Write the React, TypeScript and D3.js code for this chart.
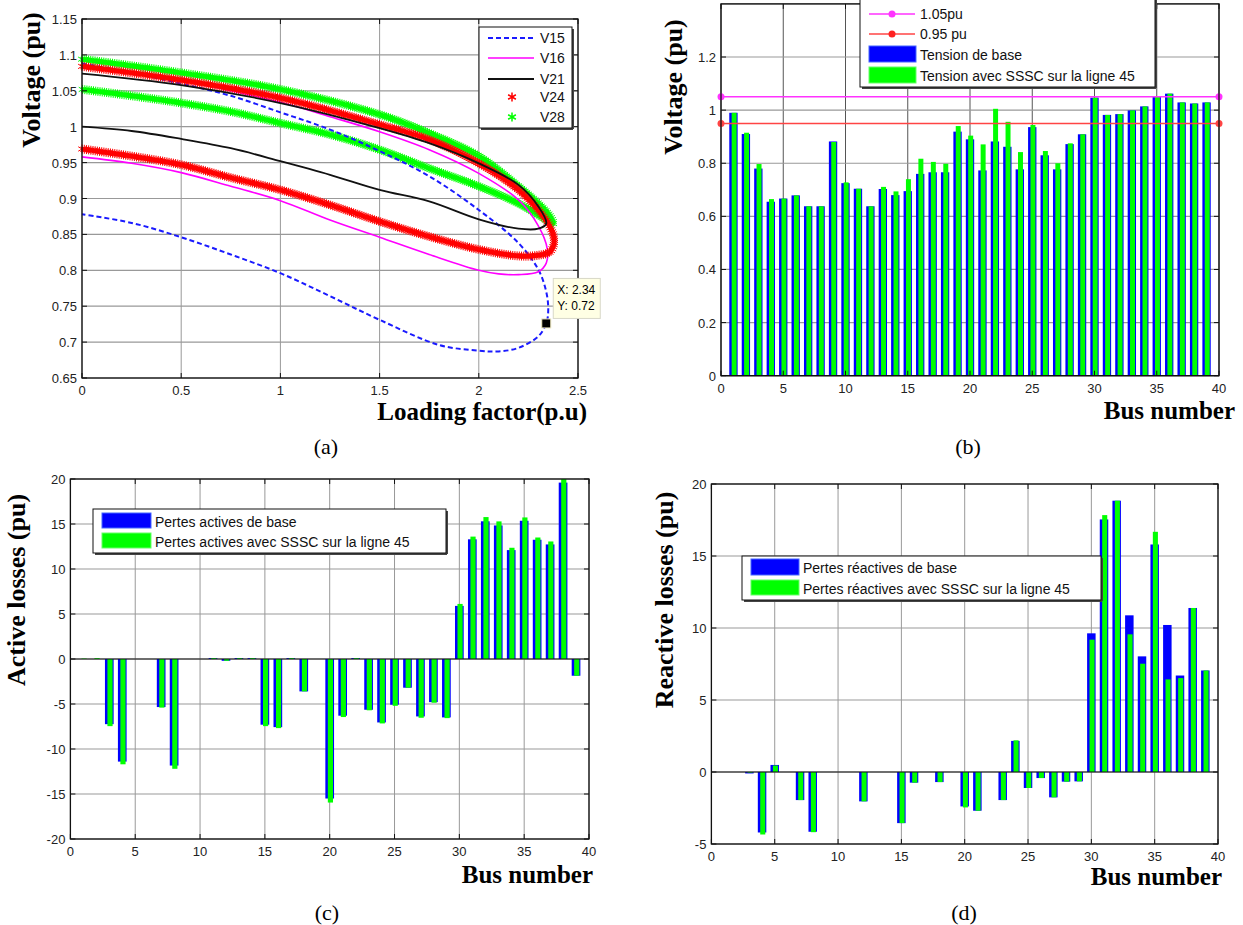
import React, { useEffect, useRef } from "react";
import * as d3 from "d3";

const W = 1243;
const H = 925;

// (a) PV curves, [loading factor, voltage]: upper branch out to the nose, then back along the lower branch
const v15 = [[0, 1.088], [0.25, 1.075], [0.5, 1.06], [0.75, 1.043], [1.0, 1.02], [1.25, 0.996], [1.5, 0.966], [1.75, 0.931], [2.0, 0.884], [2.2, 0.838], [2.3, 0.801], [2.34, 0.77], [2.35, 0.745], [2.34, 0.726], [2.3, 0.708], [2.2, 0.692], [2.1, 0.687], [2.0, 0.688], [1.8, 0.696], [1.5, 0.731], [1.25, 0.764], [1.0, 0.796], [0.75, 0.822], [0.5, 0.846], [0.25, 0.866], [0, 0.878]];
const v16 = [[0, 1.085], [0.5, 1.064], [1.0, 1.034], [1.25, 1.014], [1.5, 0.993], [1.75, 0.968], [2.0, 0.935], [2.2, 0.898], [2.3, 0.862], [2.345, 0.83], [2.34, 0.81], [2.3, 0.798], [2.2, 0.794], [2.1, 0.795], [2.0, 0.8], [1.75, 0.822], [1.5, 0.846], [1.25, 0.87], [1.0, 0.897], [0.75, 0.917], [0.5, 0.936], [0.25, 0.949], [0, 0.958]];
const v21 = [[0, 1.074], [0.5, 1.058], [1.0, 1.033], [1.5, 0.998], [1.75, 0.977], [2.0, 0.949], [2.2, 0.919], [2.3, 0.889], [2.34, 0.865], [2.3, 0.858], [2.2, 0.858], [2.0, 0.871], [1.75, 0.896], [1.5, 0.912], [1.25, 0.933], [1.0, 0.952], [0.75, 0.97], [0.5, 0.983], [0.25, 0.994], [0, 1.0]];
const v24 = [[0, 1.084], [0.5, 1.065], [1.0, 1.04], [1.5, 1.003], [1.75, 0.982], [2.0, 0.949], [2.2, 0.912], [2.3, 0.884], [2.36, 0.86], [2.38, 0.84], [2.36, 0.826], [2.3, 0.821], [2.2, 0.82], [2.0, 0.829], [1.75, 0.847], [1.5, 0.868], [1.25, 0.891], [1.0, 0.912], [0.75, 0.929], [0.5, 0.947], [0.25, 0.959], [0, 0.969]];
const v28 = [[0, 1.094], [0.5, 1.075], [1.0, 1.052], [1.5, 1.017], [1.75, 0.991], [2.0, 0.959], [2.2, 0.917], [2.3, 0.893], [2.36, 0.875], [2.375, 0.865], [2.33, 0.872], [2.2, 0.893], [2.0, 0.917], [1.75, 0.942], [1.5, 0.968], [1.25, 0.989], [1.0, 1.005], [0.75, 1.021], [0.5, 1.033], [0.25, 1.043], [0, 1.052]];
const tipPoint = [2.34, 0.726];

const aTicksX = [0, 0.5, 1, 1.5, 2, 2.5];
const aTicksY = [0.65, 0.7, 0.75, 0.8, 0.85, 0.9, 0.95, 1, 1.05, 1.1, 1.15];
const busTicks = [0, 5, 10, 15, 20, 25, 30, 35, 40];
const bTicksY = [0, 0.2, 0.4, 0.6, 0.8, 1, 1.2];
const cTicksY = [-20, -15, -10, -5, 0, 5, 10, 15, 20];
const dTicksY = [-5, 0, 5, 10, 15, 20];

const busNumbers = [1, 2, 3, 4, 5, 6, 7, 8, 9, 10, 11, 12, 13, 14, 15, 16, 17, 18, 19, 20, 21, 22, 23, 24, 25, 26, 27, 28, 29, 30, 31, 32, 33, 34, 35, 36, 37, 38, 39];

// (b) bus voltages
const voltBase = [0.99, 0.91, 0.78, 0.655, 0.667, 0.679, 0.638, 0.638, 0.882, 0.725, 0.704, 0.638, 0.703, 0.68, 0.695, 0.76, 0.766, 0.766, 0.919, 0.89, 0.773, 0.882, 0.862, 0.777, 0.936, 0.83, 0.777, 0.872, 0.909, 1.047, 0.982, 0.985, 0.999, 1.014, 1.05, 1.062, 1.029, 1.025, 1.029];
const voltSSSC = [0.99, 0.915, 0.797, 0.665, 0.667, 0.679, 0.638, 0.638, 0.88, 0.728, 0.704, 0.638, 0.711, 0.694, 0.74, 0.817, 0.805, 0.798, 0.94, 0.904, 0.871, 1.005, 0.956, 0.842, 0.944, 0.846, 0.8, 0.875, 0.909, 1.047, 0.982, 0.985, 0.999, 1.014, 1.05, 1.062, 1.029, 1.025, 1.029];
const limitHigh = 1.05;
const limitLow = 0.95;

// (c) active losses
const activeBase = [0, 0, -7.24, -11.4, 0, 0, -5.34, -11.84, 0, 0, 0.1, -0.2, 0.1, 0.1, -7.3, -7.57, 0.1, -3.6, 0, -15.5, -6.3, 0.1, -5.64, -7.05, -5.08, -3.19, -6.38, -4.79, -6.49, 5.9, 13.3, 15.3, 14.84, 12.1, 15.36, 13.25, 12.73, 19.6, -1.86];
const activeSSSC = [0.05, 0.1, -7.46, -11.7, 0, 0, -5.4, -12.2, 0, 0, 0.1, -0.2, 0.1, 0.1, -7.46, -7.68, 0.1, -3.6, 0, -15.95, -6.45, 0.1, -5.7, -7.16, -5.2, -3.19, -6.53, -4.86, -6.57, 6.12, 13.6, 15.77, 15.29, 12.36, 15.73, 13.5, 13.06, 20, -1.86];

// (d) reactive losses
const reactBase = [0, 0, -0.1, -4.2, 0.49, 0, -1.95, -4.15, 0, 0, 0, -2.04, 0, 0, -3.55, -0.74, 0, -0.7, 0, -2.39, -2.69, 0, -1.95, 2.16, -1.11, -0.42, -1.76, -0.67, -0.65, 9.63, 17.54, 18.84, 10.88, 8.03, 15.8, 10.21, 6.7, 11.39, 7.05];
const reactSSSC = [0, 0, -0.05, -4.34, 0.45, 0, -1.95, -4.18, 0, 0, 0, -2.04, 0, 0, -3.55, -0.74, 0, -0.7, 0, -2.46, -2.69, 0, -1.95, 2.2, -1.11, -0.42, -1.76, -0.67, -0.65, 9.19, 17.84, 18.84, 9.56, 7.52, 16.68, 6.43, 6.52, 11.39, 7.05];

const SANS = "'Liberation Sans', Arial, sans-serif";
const SERIF = "'Liberation Serif', 'Times New Roman', serif";
const fmt = (d) => String(+d.toFixed(2));

function axes(g, x, y, xt, yt, gridV, gridH) {
  const [x0, x1] = x.range();
  const [y0, y1] = y.range();
  g.append("g").selectAll("line").data(xt).join("line")
    .attr("x1", d => x(d)).attr("x2", d => x(d)).attr("y1", y0).attr("y2", y1)
    .attr("stroke", gridV).attr("stroke-width", 1);
  g.append("g").selectAll("line").data(yt).join("line")
    .attr("x1", x0).attr("x2", x1).attr("y1", d => y(d)).attr("y2", d => y(d))
    .attr("stroke", gridH).attr("stroke-width", 1.2);
}

function frame(g, x, y, xt, yt) {
  const [x0, x1] = x.range();
  const [y0, y1] = y.range();
  g.append("rect").attr("x", x0).attr("y", y1).attr("width", x1 - x0).attr("height", y0 - y1)
    .attr("fill", "none").attr("stroke", "#111").attr("stroke-width", 1.3);
  const tk = 5;
  const t = g.append("g").attr("stroke", "#111").attr("stroke-width", 1);
  xt.forEach(d => {
    t.append("line").attr("x1", x(d)).attr("x2", x(d)).attr("y1", y0).attr("y2", y0 - tk);
    t.append("line").attr("x1", x(d)).attr("x2", x(d)).attr("y1", y1).attr("y2", y1 + tk);
  });
  yt.forEach(d => {
    t.append("line").attr("x1", x0).attr("x2", x0 + tk).attr("y1", y(d)).attr("y2", y(d));
    t.append("line").attr("x1", x1).attr("x2", x1 - tk).attr("y1", y(d)).attr("y2", y(d));
  });
  g.append("g").selectAll("text").data(xt).join("text")
    .attr("x", d => x(d)).attr("y", y0 + 17).attr("text-anchor", "middle")
    .style("font-family", SANS).style("font-size", "13px").attr("fill", "#222").text(fmt);
  g.append("g").selectAll("text").data(yt).join("text")
    .attr("x", x0 - 5).attr("y", d => y(d) + 5).attr("text-anchor", "end")
    .style("font-family", SANS).style("font-size", "13px").attr("fill", "#222").text(fmt);
}

function titles(svg, yTitle, yx, yy, xTitle, xx, xy, tag, tx, ty) {
  svg.append("text").attr("transform", `translate(${yx},${yy}) rotate(-90)`).attr("text-anchor", "middle")
    .style("font-family", SERIF).style("font-weight", "bold").style("font-size", "26px").text(yTitle);
  svg.append("text").attr("x", xx).attr("y", xy).attr("text-anchor", "end")
    .style("font-family", SERIF).style("font-weight", "bold").style("font-size", "25px").text(xTitle);
  svg.append("text").attr("x", tx).attr("y", ty).attr("text-anchor", "middle")
    .style("font-family", SERIF).style("font-size", "22px").text(tag);
}

function bars(g, x, y, base, sssc) {
  const zero = y(0);
  const bw = x(0.67) - x(0);
  const gw = x(0.4) - x(0);
  g.append("g").selectAll("rect").data(busNumbers).join("rect")
    .attr("x", (d) => x(d - 0.335)).attr("width", bw)
    .attr("y", (d, i) => Math.min(zero, y(base[i])))
    .attr("height", (d, i) => Math.abs(y(base[i]) - zero))
    .attr("fill", "#0000ff");
  g.append("g").selectAll("rect").data(busNumbers).join("rect")
    .attr("x", (d) => x(d - 0.145)).attr("width", gw)
    .attr("y", (d, i) => Math.min(zero, y(sssc[i])))
    .attr("height", (d, i) => Math.abs(y(sssc[i]) - zero))
    .attr("fill", "#00ff00");
  g.append("line").attr("x1", x.range()[0]).attr("x2", x.range()[1]).attr("y1", zero).attr("y2", zero)
    .attr("stroke", "#111").attr("stroke-width", 1);
}

function legendBox(g, x0, y0, x1, y1) {
  g.append("line").attr("x1", x1 + 1).attr("x2", x1 + 1).attr("y1", y0 + 2).attr("y2", y1 + 1).attr("stroke", "#444").attr("stroke-width", 2);
  g.append("line").attr("x1", x0 + 2).attr("x2", x1 + 1).attr("y1", y1 + 1).attr("y2", y1 + 1).attr("stroke", "#444").attr("stroke-width", 2);
  g.append("rect").attr("x", x0).attr("y", y0).attr("width", x1 - x0).attr("height", y1 - y0)
    .attr("fill", "#fff").attr("stroke", "#111").attr("stroke-width", 1);
}

function legendText(g, x, y, s) {
  g.append("text").attr("x", x).attr("y", y).style("font-family", SANS).style("font-size", "14px").attr("fill", "#111").text(s);
}

function draw(node) {
  const svg = d3.select(node);
  svg.selectAll("*").remove();
  svg.append("rect").attr("width", W).attr("height", H).attr("fill", "#fff");

  // ---------- (a)
  const xa = d3.scaleLinear().domain([0, 2.5]).range([82, 578]);
  const ya = d3.scaleLinear().domain([0.65, 1.15]).range([378, 19]);
  const ga = svg.append("g");
  axes(ga, xa, ya, aTicksX, aTicksY, "#999", "#999");
  const line = d3.line().x(d => xa(d[0])).y(d => ya(d[1])).curve(d3.curveCatmullRom.alpha(0.5));
  const star = d3.symbol(d3.symbolAsterisk, 56)();
  const starred = (data, col) => {
    const p = ga.append("path").attr("d", line(data)).attr("fill", "none").attr("stroke", col).attr("stroke-width", 4.5);
    const pn = p.node();
    const len = pn.getTotalLength();
    const pts = d3.range(0, len, 2.2).map(l => pn.getPointAtLength(l));
    ga.append("g").selectAll("path").data(pts).join("path").attr("d", star)
      .attr("transform", q => `translate(${q.x},${q.y})`)
      .attr("fill", "none").attr("stroke", col).attr("stroke-width", 1);
  };
  starred(v28, "#00ff00");
  ga.append("path").attr("d", line(v15)).attr("fill", "none").attr("stroke", "#1a1aff").attr("stroke-width", 2).attr("stroke-dasharray", "5,3");
  ga.append("path").attr("d", line(v16)).attr("fill", "none").attr("stroke", "#ff00ff").attr("stroke-width", 1.6);
  starred(v24, "#ff0000");
  ga.append("path").attr("d", line(v21)).attr("fill", "none").attr("stroke", "#111").attr("stroke-width", 1.8);
  frame(ga, xa, ya, aTicksX, aTicksY);

  // data tip
  const tx = xa(tipPoint[0]), ty = ya(tipPoint[1]);
  ga.append("rect").attr("x", tx + 7).attr("y", ty - 45).attr("width", 47).attr("height", 40)
    .attr("fill", "#ffffe4").attr("stroke", "#d8d8c8");
  ga.append("text").attr("x", tx + 11).attr("y", ty - 29).style("font-family", SANS).style("font-size", "12px").text("X: 2.34");
  ga.append("text").attr("x", tx + 11).attr("y", ty - 13).style("font-family", SANS).style("font-size", "12px").text("Y: 0.72");
  ga.append("rect").attr("x", tx - 4.5).attr("y", ty - 4.5).attr("width", 9).attr("height", 9)
    .attr("fill", "#000").attr("stroke", "#eee8c0").attr("stroke-width", 1);

  // legend (a)
  legendBox(ga, 479, 27, 572, 128);
  const la = [
    { name: "V15", col: "#1a1aff", dash: "5,3", w: 2 },
    { name: "V16", col: "#ff00ff", dash: null, w: 1.6 },
    { name: "V21", col: "#111", dash: null, w: 2 },
    { name: "V24", col: "#ff0000", star: true },
    { name: "V28", col: "#00ff00", star: true },
  ];
  const rowsA = [38, 58, 79, 97, 117];
  la.forEach((d, i) => {
    if (d.star) {
      ga.append("path").attr("d", star).attr("transform", `translate(512,${rowsA[i]})`)
        .attr("fill", "none").attr("stroke", d.col).attr("stroke-width", 1.5);
    } else {
      ga.append("line").attr("x1", 488).attr("x2", 534).attr("y1", rowsA[i]).attr("y2", rowsA[i])
        .attr("stroke", d.col).attr("stroke-width", d.w).attr("stroke-dasharray", d.dash);
    }
    legendText(ga, 540, rowsA[i] + 5, d.name);
  });
  titles(svg, "Voltage (pu)", 40, 80, "Loading factor(p.u)", 587, 420, "(a)", 326, 454);

  // ---------- (b)
  const xb = d3.scaleLinear().domain([0, 40]).range([721, 1219]);
  const yb = d3.scaleLinear().domain([0, 1.4]).range([375.7, 3.9]);
  const gb = svg.append("g");
  axes(gb, xb, yb, busTicks, bTicksY.concat([1.4]), "#555", "#999");
  bars(gb, xb, yb, voltBase, voltSSSC);
  [[limitHigh, "#ff33ff"], [limitLow, "#ff4444"]].forEach(([v, c]) => {
    gb.append("line").attr("x1", xb(0)).attr("x2", xb(40)).attr("y1", yb(v)).attr("y2", yb(v)).attr("stroke", c).attr("stroke-width", 1.5);
    [0, 40].forEach(b => gb.append("circle").attr("cx", xb(b)).attr("cy", yb(v)).attr("r", 3.5).attr("fill", c));
  });
  frame(gb, xb, yb, busTicks, bTicksY);
  legendBox(gb, 860, -3, 1155, 87);
  gb.append("line").attr("x1", 869).attr("x2", 915).attr("y1", 14).attr("y2", 14).attr("stroke", "#ff33ff").attr("stroke-width", 1.5);
  gb.append("circle").attr("cx", 892).attr("cy", 14).attr("r", 3.5).attr("fill", "#ff33ff");
  legendText(gb, 920, 19, "1.05pu");
  gb.append("line").attr("x1", 869).attr("x2", 915).attr("y1", 34).attr("y2", 34).attr("stroke", "#ff4444").attr("stroke-width", 1.5);
  gb.append("circle").attr("cx", 892).attr("cy", 34).attr("r", 3.5).attr("fill", "#ff2222");
  legendText(gb, 920, 39, "0.95 pu");
  gb.append("rect").attr("x", 869).attr("y", 46).attr("width", 47).attr("height", 16).attr("fill", "#0000ff").attr("stroke", "#4466ff");
  legendText(gb, 920, 60, "Tension de base");
  gb.append("rect").attr("x", 869).attr("y", 67).attr("width", 47).attr("height", 16).attr("fill", "#00ff00").attr("stroke", "#66ff66");
  legendText(gb, 920, 81, "Tension avec SSSC sur la ligne 45");
  titles(svg, "Voltage (pu)", 682, 87, "Bus number", 1235, 419, "(b)", 968, 454);

  // ---------- (c)
  const xc = d3.scaleLinear().domain([0, 40]).range([70.4, 589]);
  const yc = d3.scaleLinear().domain([-20, 20]).range([839, 479]);
  const gc = svg.append("g");
  axes(gc, xc, yc, busTicks, cTicksY, "#999", "#999");
  bars(gc, xc, yc, activeBase, activeSSSC);
  frame(gc, xc, yc, busTicks, cTicksY);
  legendBox(gc, 93, 509, 446, 553);
  gc.append("rect").attr("x", 102).attr("y", 513).attr("width", 49).attr("height", 15).attr("fill", "#0000ff").attr("stroke", "#4466ff");
  legendText(gc, 155, 527, "Pertes actives de base");
  gc.append("rect").attr("x", 102).attr("y", 533).attr("width", 49).attr("height", 15).attr("fill", "#00ff00").attr("stroke", "#66ff66");
  legendText(gc, 155, 547, "Pertes actives avec SSSC sur la ligne 45");
  titles(svg, "Active losses (pu)", 25, 590, "Bus number", 593, 883, "(c)", 327, 920);

  // ---------- (d)
  const xd = d3.scaleLinear().domain([0, 40]).range([711.4, 1218]);
  const yd = d3.scaleLinear().domain([-5, 20]).range([844, 484]);
  const gd = svg.append("g");
  axes(gd, xd, yd, busTicks, dTicksY, "#999", "#999");
  bars(gd, xd, yd, reactBase, reactSSSC);
  frame(gd, xd, yd, busTicks, dTicksY);
  legendBox(gd, 742, 556, 1101, 600);
  gd.append("rect").attr("x", 751).attr("y", 559).attr("width", 48).attr("height", 16).attr("fill", "#0000ff").attr("stroke", "#4466ff");
  legendText(gd, 803, 573, "Pertes réactives de base");
  gd.append("rect").attr("x", 751).attr("y", 580).attr("width", 48).attr("height", 15).attr("fill", "#00ff00").attr("stroke", "#66ff66");
  legendText(gd, 803, 594, "Pertes réactives avec SSSC sur la ligne 45");
  titles(svg, "Reactive losses (pu)", 673, 600, "Bus number", 1222, 885, "(d)", 964, 920);
}

export default function App() {
  const ref = useRef(null);
  useEffect(() => {
    draw(ref.current);
  }, []);
  return <svg ref={ref} width={W} height={H} style={{ position: "absolute", left: 0, top: 0, display: "block" }} />;
}
